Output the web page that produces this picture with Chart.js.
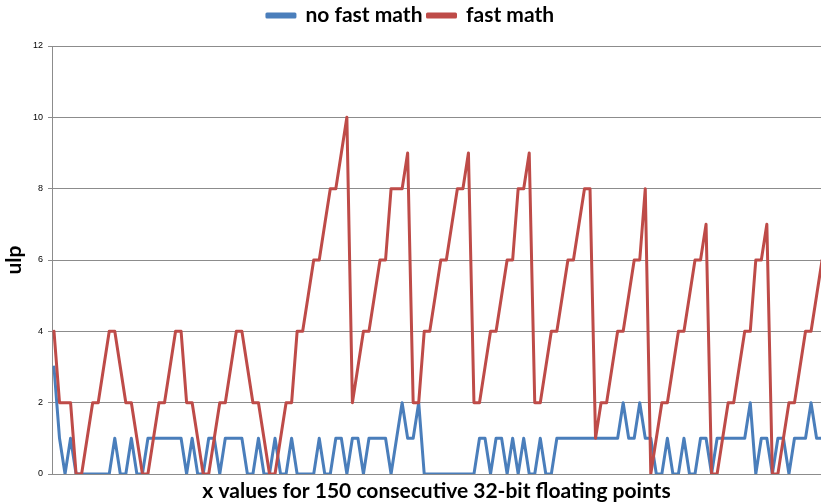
<!DOCTYPE html>
<html>
<head>
<meta charset="utf-8">
<script src="https://cdn.jsdelivr.net/npm/chart.js@4.4.1/dist/chart.umd.min.js"></script>
<style>
  html, body { margin: 0; padding: 0; background: #ffffff; }
  #wrap { width: 821px; height: 504px; }
</style>
</head>
<body>
<div id="wrap"><canvas id="c" width="821" height="504"></canvas></div>
<script>
// Error in ulp for consecutive 32-bit float inputs, with and without fast math.
const seriesNames = ['no fast math', 'fast math'];

const noFastMath = [
  3,1,0,1,0,0,0,0,0,0,
  0,1,0,0,1,0,0,1,1,1,
  1,1,1,1,0,1,0,0,1,1,
  0,1,1,1,1,0,0,1,0,0,
  1,0,0,1,0,0,0,0,1,0,
  0,1,1,0,1,1,0,1,1,1,
  1,0,1,2,1,1,2,0,0,0,
  0,0,0,0,0,0,0,1,1,0,
  1,1,0,1,0,1,0,0,1,0,
  0,1,1,1,1,1,1,1,1,1,
  1,1,1,2,1,1,2,1,1,0,
  0,1,0,0,1,0,0,1,1,0,
  1,1,1,1,1,1,2,0,1,1,
  0,1,1,0,1,1,1,2,1,1
];

const fastMath = [
  4,2,2,2,0,0,1,2,2,3,
  4,4,3,2,2,1,0,0,1,2,
  2,3,4,4,2,2,1,0,0,1,
  2,2,3,4,4,3,2,2,1,0,
  0,1,2,2,4,4,5,6,6,7,
  8,8,9,10,2,3,4,4,5,6,
  6,8,8,8,9,2,2,4,4,5,
  6,6,7,8,8,9,2,2,3,4,
  4,5,6,6,8,8,9,2,2,3,
  4,4,5,6,6,7,8,8,1,2,
  2,3,4,4,5,6,6,8,0,1,
  2,2,3,4,4,5,6,6,7,0,
  0,1,2,2,3,4,4,6,6,7,
  0,0,1,2,2,3,4,4,5,6
];

const yTickValues = [0, 2, 4, 6, 8, 10, 12];
const xTitle = 'x values for 150 consecutive 32-bit floating points';
const yTitle = 'ulp';

const BLUE = '#4A7EBB';
const RED = '#BE4B48';
const GRID = '#8C8C8C';
const FONT = 'Lato, "Liberation Sans", Arial, sans-serif';

const toPoints = arr => arr.map((v, i) => ({ x: i, y: v }));

// Fixed legend band height so the plot starts right under it.
const legendBand = {
  id: 'legendBand',
  beforeInit(chart) {
    const fit = chart.legend.fit;
    chart.legend.fit = function () {
      fit.call(this);
      this.height = 46;
    };
  }
};

new Chart(document.getElementById('c'), {
  type: 'line',
  data: {
    datasets: [
      {
        label: seriesNames[0],
        data: toPoints(noFastMath),
        borderColor: BLUE,
        backgroundColor: BLUE,
        borderWidth: 3,
        pointRadius: 0,
        tension: 0,
        borderJoinStyle: 'round',
        borderCapStyle: 'round',
        order: 1
      },
      {
        label: seriesNames[1],
        data: toPoints(fastMath),
        borderColor: RED,
        backgroundColor: RED,
        borderWidth: 3,
        pointRadius: 0,
        tension: 0,
        borderJoinStyle: 'round',
        borderCapStyle: 'round',
        order: 0
      }
    ]
  },
  options: {
    responsive: false,
    animation: false,
    devicePixelRatio: 1,
    layout: { padding: 0 },
    plugins: {
      tooltip: { enabled: false },
      legend: {
        position: 'top',
        align: 'center',
        labels: {
          boxWidth: 28,
          boxHeight: 3,
          padding: 5,
          color: '#000000',
          font: { family: FONT, size: 21, weight: 'bold' },
          sort: (a, b) => a.datasetIndex - b.datasetIndex
        }
      }
    },
    scales: {
      x: {
        type: 'linear',
        min: -0.36,
        max: 138.8,
        grid: { display: false },
        border: { display: false },
        ticks: { display: false },
        title: {
          display: true,
          text: xTitle,
          color: '#000000',
          font: { family: FONT, size: 21, weight: 'bold' },
          padding: { top: 0, bottom: 0 }
        },
        afterFit(scale) { scale.height = 30; }
      },
      y: {
        min: 0,
        max: 12,
        afterBuildTicks(scale) { scale.ticks = yTickValues.map(v => ({ value: v })); },
        grid: { color: GRID, lineWidth: 1, tickLength: 4, drawTicks: true },
        border: { display: true, color: GRID, width: 1 },
        ticks: {
          color: '#000000',
          padding: 5,
          font: { family: '"Liberation Sans", Arial, sans-serif', size: 9 }
        },
        title: {
          display: true,
          text: yTitle,
          color: '#000000',
          font: { family: FONT, size: 21, weight: 'bold' },
          padding: { top: 2, bottom: 0 }
        },
        afterFit(scale) { scale.width = 52; }
      }
    }
  },
  plugins: [legendBand]
});
</script>
</body>
</html>
